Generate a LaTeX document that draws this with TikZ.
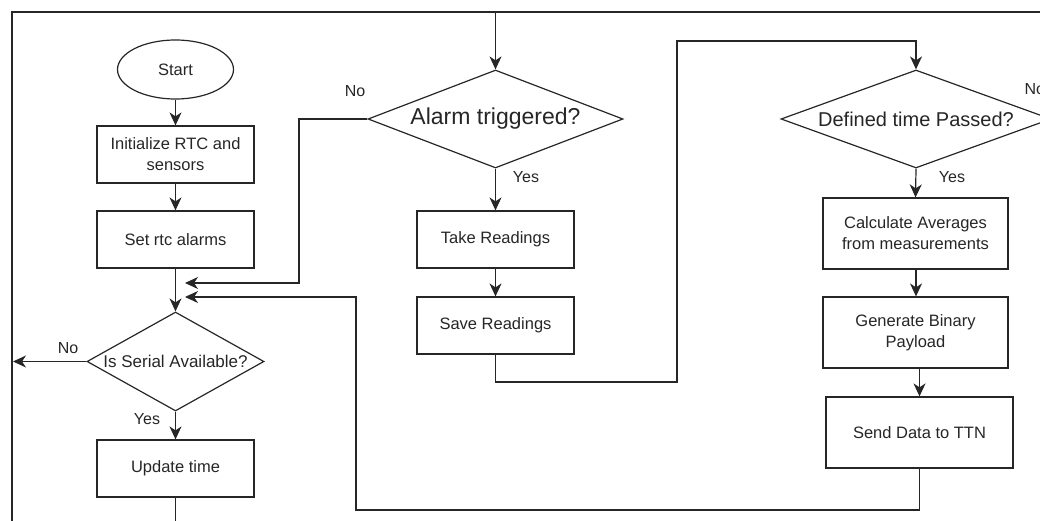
\documentclass[tikz,border=0pt]{standalone}
\usepackage{fontspec}
\setmainfont{Liberation Sans}
\usetikzlibrary{shapes.geometric,arrows.meta}
\begin{document}
\begin{tikzpicture}[x=1pt,y=-1pt,line width=1.2pt,color=black!85,
  proc/.style={draw,rectangle,minimum width=157pt,minimum height=57pt,inner sep=0pt,align=center,font=\fontsize{16.5}{21}\selectfont},
  startst/.style={draw,ellipse,minimum width=116pt,minimum height=59pt,inner sep=0pt,font=\fontsize{16.5}{21}\selectfont},
  decision/.style={draw,diamond,inner sep=0pt},
  arr/.style={-{Stealth[length=13pt,width=12pt,inset=4pt]}},
  lbl/.style={inner sep=0pt,font=\fontsize{16}{18}\selectfont}]
\useasboundingbox (0,0) rectangle (1040,521);
\clip (0,0) rectangle (1040,521);
% nodes
\node[startst] (start) at (175.5,69.5) {Start};
\node[proc] (init) at (175.5,154.5) {Initialize RTC and\\sensors};
\node[proc] (setrtc) at (175.5,239.5) {Set rtc alarms};
\node[decision,minimum width=177pt,minimum height=99pt,font=\fontsize{17}{20}\selectfont] (serial) at (175.5,361.5) {\makebox[0pt]{Is Serial Available?}};
\node[proc] (update) at (175.5,468.5) {Update time};
\node[decision,minimum width=255pt,minimum height=98pt,font=\fontsize{23}{26}\selectfont] (alarm) at (495.5,119) {\makebox[0pt]{Alarm triggered?}};
\node[proc] (take) at (495.5,239.5) {Take Readings};
\node[proc] (save) at (495.5,325.5) {Save Readings};
\node[decision,minimum width=270pt,minimum height=98pt,font=\fontsize{20}{24}\selectfont] (defined) at (916,119) {\makebox[0pt]{Defined time Passed?}};
\node[proc,minimum width=185pt,minimum height=71pt] (calc) at (915.5,233.5) {Calculate Averages\\from measurements};
\node[proc,minimum width=185pt,minimum height=71pt] (gen) at (915.5,332.5) {Generate Binary\\Payload};
\node[proc,minimum width=187pt,minimum height=71pt] (send) at (919.5,432.5) {Send Data to TTN};
% labels
\node[lbl] (noS) at (68,348) {No};
\node[lbl] (yesS) at (147,419) {Yes};
\node[lbl] (noA) at (355,91) {No};
\node[lbl] (yesA) at (526,177) {Yes};
\node[lbl,anchor=west] (noD) at (1024,89) {No};
\node[lbl] (yesD) at (952,177) {Yes};
% coordinates
\coordinate (bl) at (12,540);
\coordinate (tl) at (12,12);
\coordinate (tr) at (1060,12);
\coordinate (topj) at (495.5,12);
\coordinate (leftend) at (13,361.5);
\coordinate (merge1) at (185,283);
\coordinate (merge2) at (185,297);
\coordinate (aNo) at (299,119);
\coordinate (s1) at (495.5,382);
\coordinate (s2) at (677,41);
\coordinate (dEast) at (1070,119);
\coordinate (f2) at (356,510);
\coordinate (ubot) at (175.5,540);
% connectors
\draw (bl) -- (tl) -- (tr);
\draw[arr] (topj) -- (alarm.north);
\draw[arr] (start) -- (init);
\draw[arr] (init) -- (setrtc);
\draw[arr] (setrtc) -- (serial);
\draw[arr] (serial.west) -- (leftend);
\draw[arr] (serial.south) -- (update.north);
\draw (update.south) -- (ubot);
\draw[arr] (alarm.west) -- (aNo) |- (merge1);
\draw[arr] (alarm.south) -- (take.north);
\draw[arr] (take) -- (save);
\draw[arr] (save.south) -- (s1) -| (s2) -| (defined.north);
\draw (defined.east) -- (dEast);
\draw[arr] (defined.south) -- (calc.north);
\draw[arr] (calc.south -| defined.south) -- (gen.north -| defined.south);
\draw[arr] (send.north |- gen.south) -- (send.north);
\draw[arr] (send.south) |- (f2) |- (merge2);
\end{tikzpicture}
\end{document}
